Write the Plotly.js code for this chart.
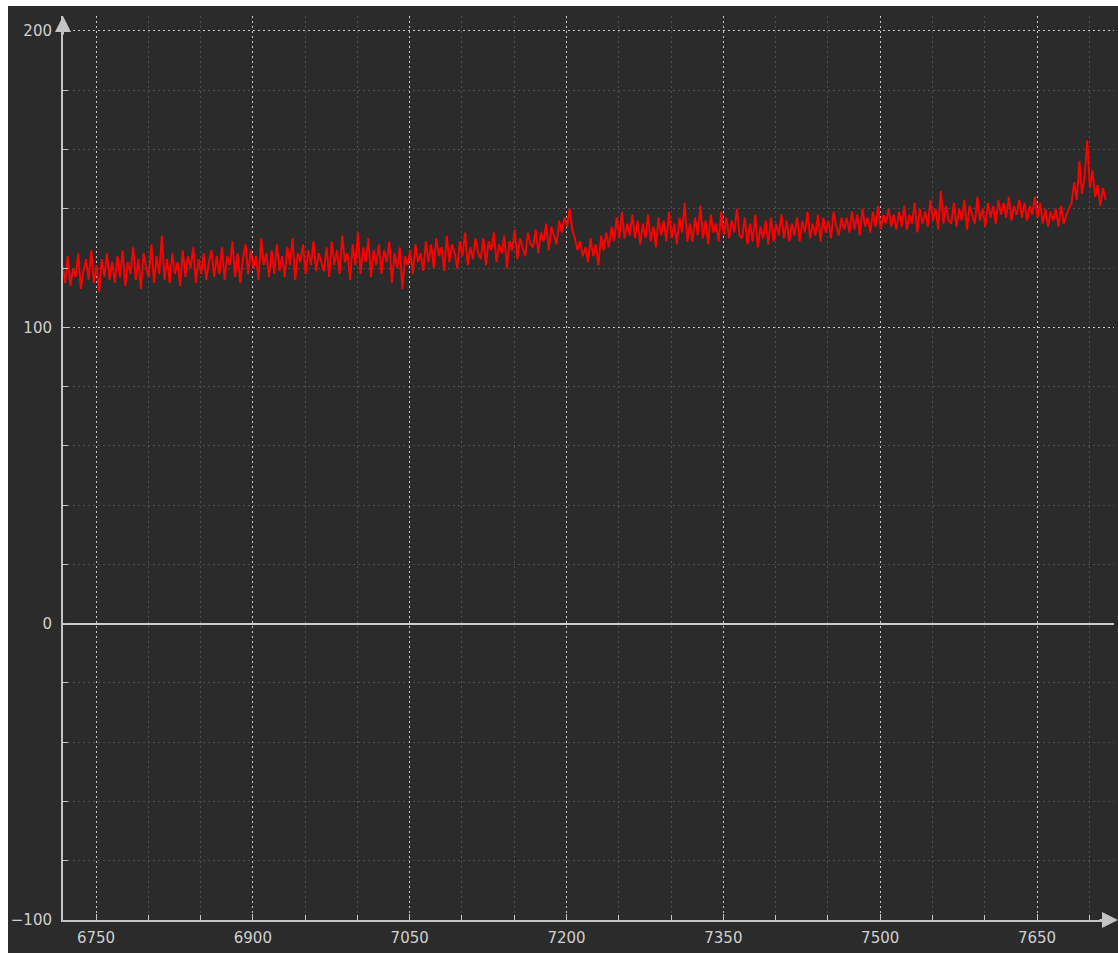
<!DOCTYPE html>
<html>
<head>
<meta charset="utf-8">
<script src="https://cdn.plot.ly/plotly-3.0.1.min.js"></script>
<style>
  html, body { margin: 0; padding: 0; background: #ffffff; }
  body { padding: 6px 0 0 8px; width: 1118px; height: 953px; box-sizing: border-box; overflow: hidden; }
  #chart { width: 1110px; height: 947px; }
</style>
</head>
<body>
<div id="chart"></div>
<script>
// Sampling of the spectrum (wavelength axis)
const xStart = 6718;
const xStep = 2.5;

// Signal values (20 rows of 20 samples, each row spans 50 units)
const signal = [
  121,115,124,114,120,117,125,113,119,123,116,126,115,121,112,123,117,125,116,122,
  115,124,117,126,114,122,118,127,116,123,113,125,120,117,128,115,124,118,131,116,
  123,115,125,118,122,114,126,117,124,120,127,115,123,118,125,116,122,126,117,124,
  118,127,116,124,121,129,117,125,115,123,128,118,126,120,124,116,130,121,125,117,
  126,118,128,119,124,117,127,121,130,116,125,122,128,118,126,121,129,119,125,122,
  119,127,117,129,121,126,118,131,122,125,116,128,121,132,118,127,122,130,117,126,
  121,128,118,126,122,129,115,125,120,127,113,124,121,126,118,128,122,125,119,129,
  122,128,120,130,124,127,119,131,122,128,125,120,129,124,132,121,127,123,130,125,
  123,130,121,129,126,132,122,128,125,131,120,129,126,133,123,130,127,124,132,128,
  127,133,125,132,129,135,126,134,131,128,136,132,137,134,140,133,130,126,129,124,
  127,122,130,124,128,121,131,126,132,127,134,129,137,130,139,130,135,131,138,130,
  136,128,135,130,138,129,134,127,137,131,136,129,139,130,135,128,137,132,142,129,
  135,129,137,131,141,130,136,128,138,132,135,129,139,131,137,130,136,132,140,131,
  130,137,128,135,129,138,127,134,130,136,128,137,129,135,131,138,130,136,129,135,
  131,137,129,136,132,139,130,135,131,138,129,137,132,136,130,139,134,131,137,133,
  137,132,139,133,138,131,140,134,137,132,139,134,141,133,138,135,140,134,138,133,
  139,134,141,133,138,135,142,132,140,135,139,134,143,136,140,133,146,135,141,136,
  135,142,134,140,136,143,133,141,138,135,144,136,140,134,142,137,141,135,143,138,
  142,137,144,136,141,138,143,137,142,136,141,138,144,137,142,135,140,134,139,136,
  140,134,141,135,138,140,142,149,143,156,145,151,163,147,153,144,148,141,147,143
];
const wavelength = signal.map((_, i) => xStart + i * xStep);

// Axis settings
const xRange = [6718.44, 7723.6];
const yRange = [-100, 205.06];
const xMajor = 150, xMinor = 50, xTick0 = 6750;
const yMajor = 100, yMinor = 20;

const bg = '#2b2b2b';
const axisCol = '#c4c4c4';
const textCol = '#cfcfcf';

const trace = {
  x: wavelength,
  y: signal,
  type: 'scatter',
  mode: 'lines',
  line: { color: '#ff0000', width: 1.9 },
  hoverinfo: 'x+y'
};

const layout = {
  width: 1110,
  height: 947,
  margin: { l: 55, r: 4, t: 10, b: 32.5 },
  paper_bgcolor: bg,
  plot_bgcolor: bg,
  showlegend: false,
  font: { family: 'DejaVu Sans, sans-serif', size: 15, color: textCol },
  xaxis: {
    range: xRange,
    tick0: xTick0,
    dtick: xMajor,
    tickmode: 'linear',
    ticks: 'inside',
    ticklen: 6,
    tickcolor: axisCol,
    tickwidth: 1,
    showgrid: true,
    gridcolor: '#c8c8c8',
    griddash: '2px,3px',
    gridwidth: 1,
    showline: true,
    linecolor: axisCol,
    linewidth: 2,
    zeroline: false,
    ticklabelstandoff: 3,
    tickfont: { size: 15, color: textCol },
    minor: {
      dtick: xMinor,
      tick0: xTick0,
      showgrid: true,
      gridcolor: '#4e4e4e',
      griddash: '2px,3px',
      gridwidth: 1,
      ticks: 'inside',
      ticklen: 5,
      tickcolor: axisCol
    },
    fixedrange: true
  },
  yaxis: {
    range: yRange,
    tick0: 0,
    dtick: yMajor,
    tickmode: 'linear',
    ticks: 'inside',
    ticklen: 6,
    tickcolor: axisCol,
    showgrid: true,
    gridcolor: '#c8c8c8',
    griddash: '2px,3px',
    gridwidth: 1,
    showline: true,
    linecolor: axisCol,
    linewidth: 2,
    zeroline: true,
    zerolinecolor: '#cfcfcf',
    zerolinewidth: 2,
    ticklabelstandoff: 6,
    tickfont: { size: 15, color: textCol },
    minor: {
      dtick: yMinor,
      tick0: 0,
      showgrid: true,
      gridcolor: '#4e4e4e',
      griddash: '2px,3px',
      gridwidth: 1,
      ticks: 'inside',
      ticklen: 5,
      tickcolor: axisCol
    },
    fixedrange: true
  },
  annotations: [
    { xref: 'paper', yref: 'paper', x: 0, y: 1, ax: 0, ay: 20, text: '', showarrow: true,
      arrowhead: 2, arrowsize: 1.6, arrowwidth: 2, arrowcolor: axisCol, standoff: 0 },
    { xref: 'paper', yref: 'paper', x: 1, y: 0, xshift: 4, ax: -20, ay: 0, text: '', showarrow: true,
      arrowhead: 2, arrowsize: 1.6, arrowwidth: 2, arrowcolor: axisCol, standoff: 0 }
  ]
};

Plotly.newPlot('chart', [trace], layout, { displayModeBar: false, staticPlot: true });
</script>
</body>
</html>
